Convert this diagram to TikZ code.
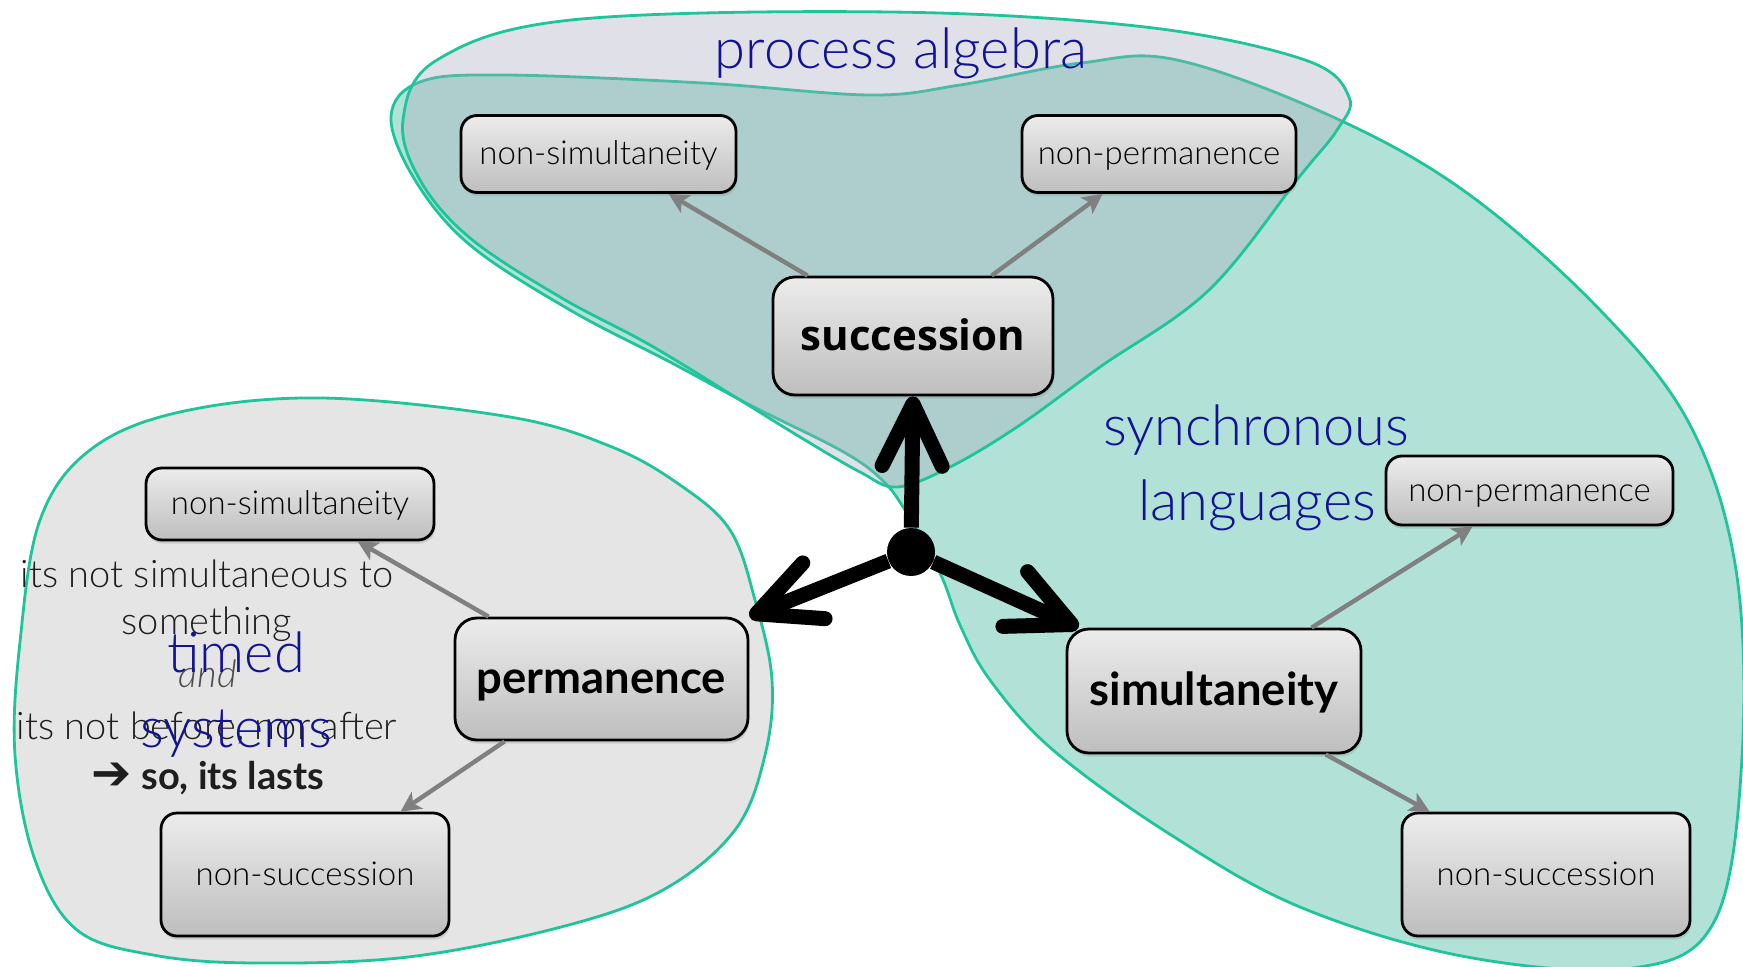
\documentclass[tikz,border=0pt]{standalone}
\usepackage{fontspec}
\usetikzlibrary{arrows.meta,shadows}
\setmainfont{Lato}
\IfFontExistsTF{Lato Light}{\newfontfamily\lightfont{Lato Light}}{\newfontfamily\lightfont{Lato}}
\newfontfamily\osfont{Open Sans}
\newfontfamily\dejavu{DejaVu Sans}
\definecolor{blobline}{RGB}{30,196,154}
\definecolor{tealfill}{RGB}{178,226,215}
\definecolor{lavfill}{RGB}{167,169,190}
\definecolor{grayfill}{RGB}{229,229,229}
\definecolor{labelblue}{RGB}{18,18,150}
\definecolor{boxtop}{RGB}{236,236,236}
\definecolor{boxbot}{RGB}{190,190,190}
\definecolor{arrowgray}{RGB}{128,128,128}
\definecolor{notetext}{RGB}{30,30,30}
\tikzset{
  blob/.style={draw=blobline, line width=1.4pt},
  box/.style={draw=black, line width=1.4pt, rounded corners=8pt,
    top color=boxtop, bottom color=boxbot,
    drop shadow={shadow xshift=0.6pt, shadow yshift=-1.8pt, opacity=0.25},
    inner sep=0pt, align=center, text=black},
  smallbox/.style={box, font=\lightfont\fontsize{16.5}{18}\selectfont, text height=14pt, text depth=3.5pt},
  bigbox/.style={box, rounded corners=11pt, font=\bfseries\fontsize{22.7}{26}\selectfont, text height=19.5pt, text depth=5pt},
  subarrow/.style={draw=arrowgray, line width=2.2pt, -{Stealth[length=10pt, width=10pt, inset=2.5pt]}},
  bigarrow/.style={draw=black, line width=7.5pt, -{Straight Barb[length=31pt, width=30pt, round]}},
  bluelabel/.style={text=labelblue, font=\lightfont\fontsize{28}{30}\selectfont, inner sep=0pt, anchor=base},
  note/.style={text=notetext, font=\lightfont\fontsize{19}{22}\selectfont, inner sep=0pt, anchor=base}
}
\begin{document}
\begin{tikzpicture}[x=0.5pt, y=-0.5pt]
\useasboundingbox (0,0) rectangle (1743,967);
% blobs
\draw[blob, fill=grayfill] plot[smooth cycle, tension=0.6] coordinates {
 (322,398) (510,417) (612,447) (680,485) (730,530) (755,600) (772,680) (765,755)
 (735,830) (663,890) (561,927) (408,957) (255,963) (153,955) (77,930) (35,860)
 (15,755) (20,642) (40,520) (90,450) (180,412)};
\draw[blob, fill=tealfill] plot[smooth cycle, tension=0.6] coordinates {
 (391,117) (420,82) (503,75) (703,83) (870,95) (960,85) (1081,63) (1177,60)
 (1333,117) (1467,193) (1600,310) (1690,425) (1736,570) (1742,757) (1715,920)
 (1633,968) (1467,957) (1300,907) (1168,833) (1053,750) (990,680)
 (960,625) (940,573) (905,510) (880,478) (840,450) (750,405) (670,362)
 (570,310) (470,245) (415,180)};
\draw[blob, fill=lavfill, fill opacity=0.35] plot[smooth cycle, tension=0.6] coordinates {
 (403,120) (437,60) (571,20) (890,12) (1145,27) (1305,60) (1349,97) (1337,130)
 (1300,176) (1209,290) (1100,367) (1017,427) (950,467) (897,487) (860,472)
 (800,437) (740,400) (650,345) (560,297) (470,238) (420,180)};
% annotation text
\node[note] (n1) at (207,587) {its not simultaneous to};
\node[note] (n2) at (207,634) {something};
\node[note, text=black!70, font=\lightfont\itshape\fontsize{19}{22}\selectfont] (n3) at (208,687) {and};
\node[note] (n4) at (207,739) {its not before, nor after};
\node[note, font=\bfseries\fontsize{19}{22}\selectfont] (n5) at (208,789) {{\dejavu\fontsize{24}{24}\selectfont\symbol{"2794}}\ so, its lasts};
% blue labels
\node[bluelabel] (pa) at (901,69) {process algebra};
\node[bluelabel] (sl1) at (1256,445) {synchronous};
\node[bluelabel] (sl2) at (1257,520) {languages};
\node[bluelabel] (ts1) at (236,672) {timed};
\node[bluelabel] (ts2) at (236,747) {systems};
% boxes
\node[smallbox, minimum width=137.5pt, minimum height=38.5pt] (nsim1) at (598.5,154) {non-simultaneity};
\node[smallbox, minimum width=137pt, minimum height=38.5pt] (nperm1) at (1159,154) {non-permanence};
\node[bigbox, minimum width=140pt, minimum height=59pt, font=\osfont\bfseries\fontsize{21}{24}\selectfont] (succ) at (913,336) {succession};
\node[smallbox, minimum width=144pt, minimum height=36pt] (nsim2) at (290,504) {non-simultaneity};
\node[bigbox, minimum width=146.5pt, minimum height=61pt] (perm) at (601.5,679) {permanence};
\node[smallbox, minimum width=144pt, minimum height=61.5pt] (nsucc2) at (305,874.5) {non-succession};
\node[bigbox, minimum width=147pt, minimum height=62pt] (simult) at (1214,691) {simultaneity};
\node[smallbox, minimum width=143.5pt, minimum height=34.5pt] (nperm2) at (1529.5,490.5) {non-permanence};
\node[smallbox, minimum width=144pt, minimum height=61.5pt] (nsucc3) at (1546,874.5) {non-succession};
% grey connectors
\draw[subarrow] ([xshift=18pt]succ.north west) -- ([xshift=104.5pt]nsim1.south west);
\draw[subarrow] ([xshift=110pt]succ.north west) -- ([xshift=41pt]nperm1.south west);
\draw[subarrow] ([xshift=17.5pt]perm.north west) -- ([xshift=106.5pt]nsim2.south west);
\draw[subarrow] ([xshift=25.5pt]perm.south west) -- ([xshift=120.5pt]nsucc2.north west);
\draw[subarrow] ([xshift=123pt]simult.north west) -- ([xshift=44pt]nperm2.south west);
\draw[subarrow] ([xshift=130pt]simult.south west) -- ([xshift=14.5pt]nsucc3.north west);
% hub and big arrows
\node[circle, fill=black, minimum size=24pt, inner sep=0pt] (hub) at (911,552) {};
\draw[bigarrow] (hub) -- (succ.south);
\draw[bigarrow] (hub) -- (perm.north east);
\draw[bigarrow] (hub) -- ([xshift=6.5pt]simult.north west);
\end{tikzpicture}
\end{document}
